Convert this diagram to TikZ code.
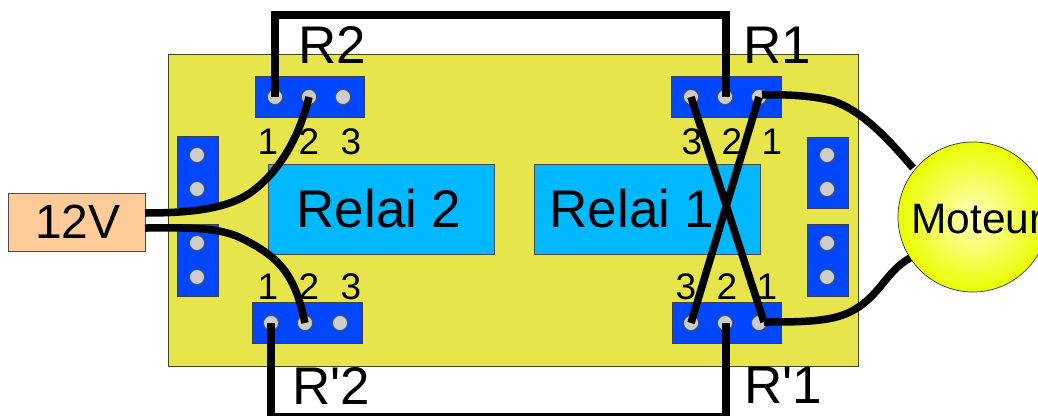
\documentclass[tikz,border=0pt]{standalone}
\usepackage{fontspec}
\setmainfont{Liberation Sans}
\definecolor{boardcol}{HTML}{E6E64C}
\definecolor{headercol}{HTML}{0047FF}
\definecolor{relaicol}{HTML}{00B8FF}
\definecolor{supplycol}{HTML}{FFCC99}
\definecolor{pincol}{HTML}{CCCCCC}
\definecolor{motorcol}{HTML}{E8FF00}
\tikzset{
  header/.style={draw=black!75, fill=headercol, line width=0.8pt, minimum width=#1, minimum height=41pt, inner sep=0pt},
  headerv/.style={draw=black!75, fill=headercol, line width=0.8pt, minimum width=41pt, minimum height=#1, inner sep=0pt},
  pin/.style={circle, draw=black!70, fill=pincol, line width=0.7pt, minimum size=15pt, inner sep=0pt},
  relai/.style={draw=black!70, fill=relaicol, line width=0.7pt, minimum width=226pt, minimum height=90pt, inner sep=0pt},
  bigtxt/.style={inner sep=0pt, font=\fontsize{53}{53}\selectfont},
  numtxt/.style={inner sep=0pt, font=\fontsize{37}{37}\selectfont},
  jumper/.style={line width=8pt, line cap=butt, line join=miter},
  wire/.style={line width=7.5pt, line cap=butt}
}
\begin{document}
\begin{tikzpicture}[x=1pt, y=-1pt]
\useasboundingbox (0,0) rectangle (1038,415);
\clip (0,0) rectangle (1038,415);

% Board
\draw[fill=boardcol, draw=black!70!boardcol, line width=1pt] (168,54) rectangle (858,366);

% Relays
\node[relai] (relai2) at (381,209) {};
\node[relai] (relai1) at (647,209) {};
\node[bigtxt] (relai2txt) at (379,209) {Relai 2};
\node[bigtxt] (relai1txt) at (632,209) {Relai 1};

% Headers
\node[header=109pt] (r2) at (310,97) {};
\node[header=110pt] (r1) at (726,97) {};
\node[header=110pt] (rp2) at (307,323) {};
\node[header=109pt] (rp1) at (726.5,323) {};
\node[headerv=71pt] (hleft1) at (197.5,171.5) {};
\node[headerv=72pt] (hleft2) at (197.5,260) {};
\node[headerv=71pt] (hright1) at (827.5,172.5) {};
\node[headerv=72pt] (hright2) at (827.5,260) {};

% Pins
\node[pin] (r2a) at (275,97) {};
\node[pin] (r2b) at (309,97) {};
\node[pin] (r2c) at (343,97) {};
\node[pin] (r1c) at (691,97) {};
\node[pin] (r1b) at (725,97) {};
\node[pin] (r1a) at (759,97) {};
\node[pin] (rp2a) at (271,323) {};
\node[pin] (rp2b) at (305,323) {};
\node[pin] (rp2c) at (340,323) {};
\node[pin] (rp1c) at (691,323) {};
\node[pin] (rp1b) at (725,323) {};
\node[pin] (rp1a) at (759,323) {};
\node[pin] (l1) at (197,155) {};
\node[pin] (l2) at (197,189) {};
\node[pin] (l3) at (197,243) {};
\node[pin] (l4) at (197,277) {};
\node[pin] (d1) at (827,155) {};
\node[pin] (d2) at (827,189) {};
\node[pin] (d3) at (827,243) {};
\node[pin] (d4) at (827,277) {};

% Pin numbers
\node[numtxt] (n1) at (268,142) {1};
\node[numtxt] (n2) at (309,142) {2};
\node[numtxt] (n3) at (351,142) {3};
\node[numtxt] (n4) at (692,142) {3};
\node[numtxt] (n5) at (732,142) {2};
\node[numtxt] (n6) at (772,142) {1};
\node[numtxt] (n7) at (268,287) {1};
\node[numtxt] (n8) at (309,287) {2};
\node[numtxt] (n9) at (351,287) {3};
\node[numtxt] (n10) at (686,287) {3};
\node[numtxt] (n11) at (727,287) {2};
\node[numtxt] (n12) at (767,287) {1};

% Supply and motor
\node[draw=black!70, fill=supplycol, line width=0.8pt, minimum width=137pt, minimum height=58pt, inner sep=0pt] (supply) at (76.5,222) {};
\node[inner sep=0pt, font=\fontsize{48}{48}\selectfont] (supplytxt) at (78,222) {12V};
\node[circle, draw=black!80, line width=0.7pt, minimum size=150pt, inner sep=0pt, inner color=yellow!25!white, outer color=motorcol] (motor) at (973,217) {};
\node[inner sep=0pt, anchor=west, font=\fontsize{42.5}{43}\selectfont] (motortxt) at (911,219) {Moteur};

% Wires
\coordinate (sup1) at (145,213);
\coordinate (sup2) at (145,228);
\coordinate (top1) at (275,15);
\coordinate (top2) at (726,15);
\coordinate (bot1) at (271,417);
\coordinate (bot2) at (726,417);
\coordinate (mot1) at (913,168);
\coordinate (mot2) at (910,258);
\coordinate (r1end) at (762,95);
\coordinate (rp1end) at (764,322);

\draw[jumper] (r2a.center) -- (top1) -- (top2) -- (r1b.center -| top2);
\draw[jumper] (rp2a.center) -- (bot1) -- (bot2) -- (rp1b.center -| bot2);
\draw[wire] (r1c.center) -- (rp1end);
\draw[wire] (r1a.center) -- (rp1c.center);
\draw[wire] (sup1) .. controls (185,213) and (225,210) .. (250,193) .. controls (280,172) and (300,135) .. (r2b.center);
\draw[wire] (sup2) .. controls (185,228) and (220,226) .. (245,240) .. controls (280,258) and (295,275) .. (rp2b.center);
\draw[wire] (r1end) .. controls (785,94) and (815,96) .. (833,101) .. controls (860,110) and (885,135) .. (mot1);
\draw[wire] (rp1end) .. controls (800,322) and (830,322) .. (850,312) .. controls (880,297) and (885,272) .. (mot2);

% Labels
\node[bigtxt] (labr2) at (332,45) {R2};
\node[bigtxt] (labr1) at (777,45) {R1};
\node[bigtxt] (labrp2) at (331,386) {R\textquotesingle 2};
\node[bigtxt] (labrp1) at (783,385) {R\textquotesingle 1};

\end{tikzpicture}
\end{document}
